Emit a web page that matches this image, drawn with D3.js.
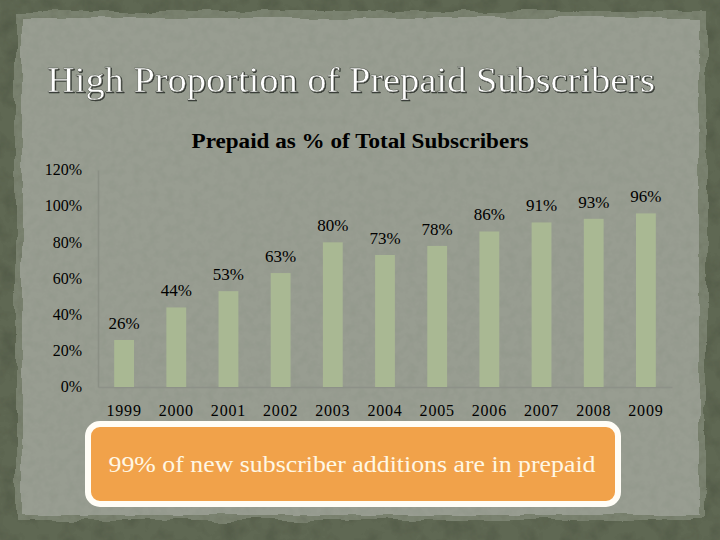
<!DOCTYPE html>
<html>
<head>
<meta charset="utf-8">
<script src="https://cdn.jsdelivr.net/npm/d3@7"></script>
<style>
  html, body { margin: 0; padding: 0; background: #5f6a53; }
  svg { display: block; }
</style>
</head>
<body>
<svg id="chart" width="720" height="540"></svg>
<script>
// ---- data ----
const years = ["1999","2000","2001","2002","2003","2004","2005","2006","2007","2008","2009"];
const prepaidShare = [0.26, 0.44, 0.53, 0.63, 0.80, 0.73, 0.78, 0.86, 0.91, 0.93, 0.96];
const valueLabels = ["26%","44%","53%","63%","80%","73%","78%","86%","91%","93%","96%"];
const yTicks = [0, 0.2, 0.4, 0.6, 0.8, 1.0, 1.2];
const slideTitle = "High Proportion of Prepaid Subscribers";
const chartTitle = "Prepaid as % of Total Subscribers";
const calloutText = "99% of new subscriber additions are in prepaid";

const svg = d3.select("#chart");
const serif = "'Liberation Serif', 'DejaVu Serif', serif";

// ---- defs: textures ----
const defs = svg.append("defs");
const grain = defs.append("filter").attr("id", "grain").attr("x", 0).attr("y", 0).attr("width", 1).attr("height", 1);
grain.append("feTurbulence").attr("type", "fractalNoise").attr("baseFrequency", 0.05).attr("numOctaves", 4).attr("seed", 3).attr("result", "noise");
grain.append("feColorMatrix").attr("in", "noise").attr("type", "matrix")
  .attr("values", "0 0 0 0 0  0 0 0 0 0  0 0 0 0 0  0 0 0 0.5 -0.22").attr("result", "dark");
grain.append("feComposite").attr("in", "dark").attr("in2", "SourceGraphic").attr("operator", "in").attr("result", "darkIn");
grain.append("feMerge").call(m => { m.append("feMergeNode").attr("in", "SourceGraphic"); m.append("feMergeNode").attr("in", "darkIn"); });

function tornFilter(id, seed, scale, spot) {
  const f = defs.append("filter").attr("id", id).attr("x", -0.05).attr("y", -0.05).attr("width", 1.1).attr("height", 1.1);
  f.append("feTurbulence").attr("type", "fractalNoise").attr("baseFrequency", 0.025).attr("numOctaves", 3).attr("seed", seed).attr("result", "t");
  f.append("feDisplacementMap").attr("in", "SourceGraphic").attr("in2", "t").attr("scale", scale).attr("xChannelSelector", "R").attr("yChannelSelector", "G").attr("result", "d");
  f.append("feTurbulence").attr("type", "fractalNoise").attr("baseFrequency", 0.12).attr("numOctaves", 3).attr("seed", seed + 4).attr("result", "n2");
  f.append("feColorMatrix").attr("in", "n2").attr("type", "matrix")
    .attr("values", `0 0 0 0 0  0 0 0 0 0  0 0 0 0 0  0 0 0 ${spot} ${-spot * 0.42}`).attr("result", "spots");
  f.append("feComposite").attr("in", "spots").attr("in2", "d").attr("operator", "in").attr("result", "spotsIn");
  f.append("feMerge").call(m => { m.append("feMergeNode").attr("in", "d"); m.append("feMergeNode").attr("in", "spotsIn"); });
}
tornFilter("torn1", 7, 12, 0.3);
tornFilter("torn2", 9, 8, 0.14);

const shadow = defs.append("filter").attr("id", "tshadow").attr("x", -0.05).attr("y", -0.2).attr("width", 1.1).attr("height", 1.4);
shadow.append("feDropShadow").attr("dx", 1).attr("dy", 1).attr("stdDeviation", 0.6).attr("flood-color", "#2a2f25").attr("flood-opacity", 0.9);

// ---- backgrounds ----
svg.append("rect").attr("width", 720).attr("height", 540).attr("fill", "#5e6852").attr("filter", "url(#grain)");
svg.append("rect").attr("x", 16).attr("y", 12).attr("width", 690).attr("height", 508)
  .attr("fill", "#7a8270").attr("filter", "url(#torn1)");
svg.append("rect").attr("x", 22).attr("y", 18).attr("width", 677).attr("height", 497)
  .attr("fill", "#989d91").attr("filter", "url(#torn2)");

// ---- titles ----
svg.append("text").attr("x", 351).attr("y", 92).attr("text-anchor", "middle")
  .attr("font-family", serif).attr("font-size", 36).attr("fill", "#ffffff")
  .attr("stroke", "#4a4f44").attr("stroke-width", 0.4)
  .attr("textLength", 608).attr("lengthAdjust", "spacingAndGlyphs")
  .attr("filter", "url(#tshadow)")
  .text(slideTitle);

svg.append("text").attr("x", 360).attr("y", 148).attr("text-anchor", "middle")
  .attr("font-family", serif).attr("font-size", 20).attr("font-weight", "bold").attr("fill", "#000")
  .attr("textLength", 337).attr("lengthAdjust", "spacingAndGlyphs")
  .text(chartTitle);

// ---- scales ----
const x = d3.scaleBand().domain(years).range([98, 672]).paddingInner(0.62).paddingOuter(0.31);
const y = d3.scaleLinear().domain([0, 1.2]).range([387, 170]);

// axes
const yAxis = d3.axisLeft(y).tickValues(yTicks).tickFormat(d3.format(".0%")).tickSize(0).tickPadding(16);
const gy = svg.append("g").attr("transform", "translate(98,0)").call(yAxis);
gy.select(".domain").attr("stroke", "#8a8f84").attr("stroke-width", 1.5);
gy.selectAll("text").attr("font-family", serif).attr("font-size", 16).attr("fill", "#000").attr("dy", "0.3em");

const xAxis = d3.axisBottom(x).tickSize(0).tickPadding(18);
const gx = svg.append("g").attr("transform", "translate(0,387)").call(xAxis);
gx.select(".domain").attr("stroke", "#8d9188").attr("stroke-width", 1.5);
gx.selectAll("text").attr("font-family", serif).attr("font-size", 16).attr("fill", "#000").attr("letter-spacing", 0.8);

// bars
const data = years.map((yr, i) => ({ yr, v: prepaidShare[i], label: valueLabels[i] }));
svg.append("g").selectAll("rect").data(data).join("rect")
  .attr("x", d => x(d.yr)).attr("width", x.bandwidth())
  .attr("y", d => y(d.v)).attr("height", d => y(0) - y(d.v))
  .attr("fill", "#a9b893");

svg.append("g").selectAll("text").data(data).join("text")
  .attr("x", d => x(d.yr) + x.bandwidth() / 2)
  .attr("y", d => y(d.v) - 11)
  .attr("text-anchor", "middle")
  .attr("font-family", serif).attr("font-size", 17).attr("fill", "#000")
  .text(d => d.label);

// ---- callout ----
svg.append("rect").attr("x", 88).attr("y", 424).attr("width", 530).attr("height", 80)
  .attr("rx", 12).attr("ry", 12)
  .attr("fill", "#f1a24a").attr("stroke", "#fffdf6").attr("stroke-width", 6);
svg.append("text").attr("x", 352).attr("y", 472).attr("text-anchor", "middle")
  .attr("font-family", serif).attr("font-size", 23).attr("fill", "#fff7e4")
  .attr("textLength", 487).attr("lengthAdjust", "spacingAndGlyphs")
  .text(calloutText);
</script>
</body>
</html>
